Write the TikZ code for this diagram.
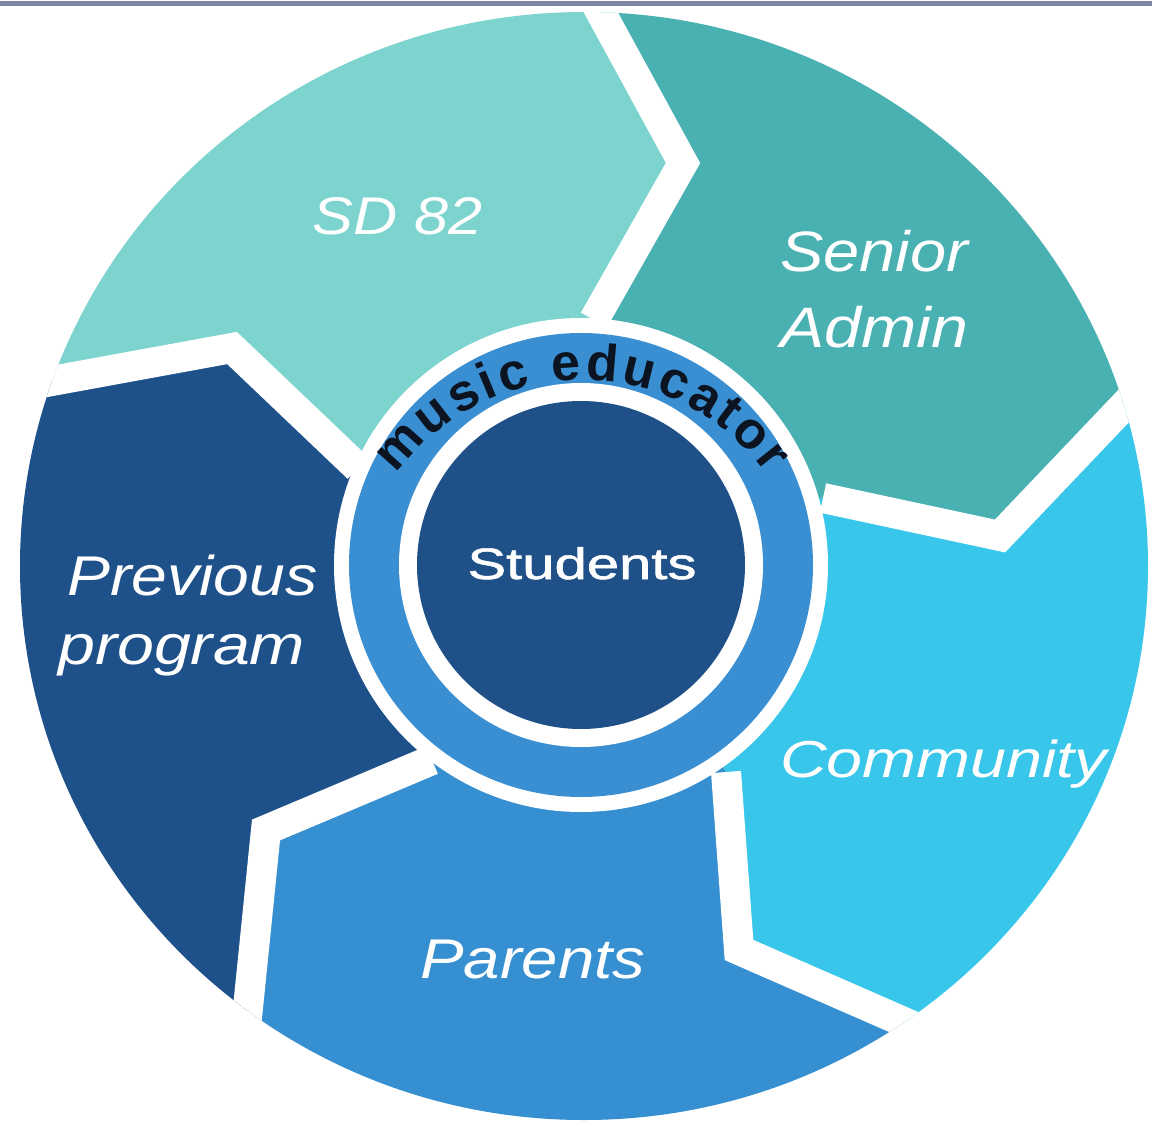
\documentclass[tikz,border=0pt]{standalone}
\usepackage{fontspec}
\usepackage{graphicx}
\usetikzlibrary{decorations.text}
\newfontfamily\labfont{Liberation Sans}
\newfontfamily\stufont[FakeBold=1.2]{Liberation Sans}
\definecolor{cSD}{HTML}{7DD4CF}
\definecolor{cSA}{HTML}{4AB1B2}
\definecolor{cCom}{HTML}{38C6EA}
\definecolor{cPar}{HTML}{368FD0}
\definecolor{cPrev}{HTML}{1E5089}
\definecolor{cRing}{HTML}{3A8FD2}
\definecolor{cStu}{HTML}{1F5088}
\definecolor{cBorder}{HTML}{7F86A6}
\definecolor{cText}{HTML}{0B1420}
\begin{document}
\begin{tikzpicture}[x=1pt,y=-1pt,
  gap/.style={white, line width=30pt, line join=miter, miter limit=10},
  lbl/.style={anchor=base west, inner sep=0pt, text=white, font=\labfont\itshape}]
\useasboundingbox (0,0) rectangle (1152,1126);
\fill[white] (0,0) rectangle (1152,1126);
\coordinate (C) at (581,565);
\coordinate (i1) at (594,320); \coordinate (t1) at (683,163); \coordinate (e1) at (545,-90);
\coordinate (i2) at (823,498); \coordinate (t2) at (1000,536); \coordinate (e2) at (1216,309);
\coordinate (i3) at (726,772); \coordinate (t3) at (739,950); \coordinate (e3) at (1073,1096);
\coordinate (i4) at (432,760); \coordinate (t4) at (266,830); \coordinate (e4) at (235,1136);
\coordinate (i5) at (358,468); \coordinate (t5) at (232,348); \coordinate (e5) at (-30,396);
\begin{scope}
\clip (584,566) ellipse [x radius=564, y radius=554];
\fill[cSD] (C) -- (i5) -- (t5) -- (e5) -- (-60,-120) -- (e1) -- (t1) -- (i1) -- cycle;
\fill[cSA] (C) -- (i1) -- (t1) -- (e1) -- (1260,-120) -- (e2) -- (t2) -- (i2) -- cycle;
\fill[cCom] (C) -- (i2) -- (t2) -- (e2) -- (1260,1250) -- (e3) -- (t3) -- (i3) -- cycle;
\fill[cPar] (C) -- (i3) -- (t3) -- (e3) -- (1100,1250) -- (235,1250) -- (e4) -- (t4) -- (i4) -- cycle;
\fill[cPrev] (C) -- (i4) -- (t4) -- (e4) -- (-60,1250) -- (e5) -- (t5) -- (i5) -- cycle;
\draw[gap] (i1) -- (t1) -- (e1);
\draw[gap] (i2) -- (t2) -- (e2);
\draw[gap] (i3) -- (t3) -- (e3);
\draw[gap] (i4) -- (t4) -- (e4);
\draw[gap] (i5) -- (t5) -- (e5);
\end{scope}
\fill[cBorder] (0,1) rectangle (1152,6);
\fill[white] (C) circle[radius=247];
\fill[cRing] (C) circle[radius=232];
\fill[white] (C) circle[radius=182];
\fill[cStu] (C) circle[radius=164];
\path[decorate, decoration={text along path, text align=fit to path,
  text={|\labfont\bfseries\fontsize{52}{52}\selectfont\color{cText}|music educator}}]
  (582,609) ++(-144:229) arc[start angle=-144, end angle=-36, radius=229];
\node[anchor=base, inner sep=0pt, text=white, font=\stufont] (stu) at (582,579)
  {\resizebox{229pt}{\height}{\fontsize{44}{44}\selectfont Students}};
\node[lbl] (sd) at (312,235) {\resizebox{170pt}{\height}{\fontsize{53}{53}\selectfont SD 82}};
\node[lbl] (sen) at (780,272) {\resizebox{188pt}{\height}{\fontsize{57}{57}\selectfont Senior}};
\node[lbl] (adm) at (780,347) {\resizebox{188pt}{\height}{\fontsize{57}{57}\selectfont Admin}};
\node[lbl] (prev) at (67,595) {\resizebox{250pt}{\height}{\fontsize{56}{56}\selectfont Previous}};
\node[lbl] (prog) at (58,664) {\resizebox{247pt}{\height}{\fontsize{56}{56}\selectfont program}};
\node[lbl] (com) at (780,777) {\resizebox{327pt}{\height}{\fontsize{52}{52}\selectfont Community}};
\node[lbl] (par) at (420,978) {\resizebox{225pt}{\height}{\fontsize{56}{56}\selectfont Parents}};
\end{tikzpicture}
\end{document}
